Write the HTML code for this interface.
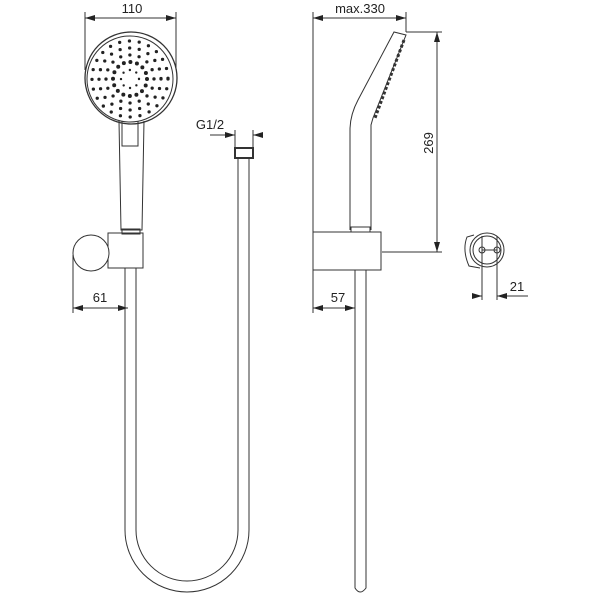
<!DOCTYPE html>
<html><head><style>html,body{margin:0;background:#fff}svg{display:block}text{font-family:"Liberation Sans",sans-serif;font-size:13px;fill:#222}</style></head><body>
<svg width="600" height="600" viewBox="0 0 600 600" xmlns="http://www.w3.org/2000/svg">
<defs>
<marker id="a" viewBox="0 0 10 6" refX="10" refY="3" markerWidth="10" markerHeight="6" orient="auto-start-reverse" markerUnits="userSpaceOnUse"><path d="M0,0L10,3L0,6z" fill="#222"/></marker>
</defs>
<g fill="none" stroke="#333" stroke-width="1">
<line x1="85" y1="12" x2="85" y2="70"/><line x1="176" y1="12" x2="176" y2="70"/>
<line x1="85" y1="18" x2="176" y2="18" marker-start="url(#a)" marker-end="url(#a)"/>
<circle cx="131" cy="78" r="46" stroke-width="1.3"/>
<circle cx="130" cy="79" r="43"/>
<g stroke="#222" stroke-linecap="round">
<circle cx="130" cy="79" r="38" stroke-dasharray="0 9.9" stroke-width="3.3"/>
<circle cx="130" cy="79" r="31" stroke-dasharray="0 9.7" stroke-width="3.3"/>
<circle cx="130" cy="79" r="24" stroke-dasharray="0 9.4" stroke-width="3.3"/>
<circle cx="130" cy="79" r="17" stroke-dasharray="0 6.7" stroke-width="4"/>
<circle cx="130" cy="79" r="9" stroke-dasharray="0 7" stroke-width="2.4"/>
</g>
<path d="M119,121 L121,230 L142,230 L144,121"/>
<path d="M122,121 L122,146 L138,146 L138,121"/>
<rect x="122" y="229" width="18" height="5"/>
<rect x="108" y="233" width="35" height="35"/>
<circle cx="91" cy="253" r="18" fill="#fff"/>
<line x1="73" y1="255" x2="73" y2="313"/>
<line x1="73" y1="308" x2="128" y2="308" marker-start="url(#a)" marker-end="url(#a)"/>
<path d="M125,268 L125,530 A62,62 0 0 0 249,530 L249,158"/>
<path d="M136,268 L136,530 A51,51 0 0 0 238,530 L238,158"/>
<rect x="235" y="148" width="18" height="10" stroke-width="2"/>
<line x1="235" y1="130" x2="235" y2="148"/><line x1="253" y1="130" x2="253" y2="148"/>
<line x1="210" y1="135" x2="235" y2="135" marker-end="url(#a)"/>
<line x1="263" y1="135" x2="253" y2="135" marker-end="url(#a)"/>
<line x1="313" y1="12" x2="313" y2="313"/>
<line x1="406" y1="12" x2="406" y2="32"/>
<line x1="313" y1="18" x2="406" y2="18" marker-start="url(#a)" marker-end="url(#a)"/>
<path d="M350,230 L350,130 Q350,115 358,100 L394,32 L406,35 L373,118 L371,125 L371,230"/>
<path d="M404,40 L375,118" stroke-width="3" stroke-dasharray="3 2"/>
<rect x="351" y="227" width="19" height="5"/>
<rect x="313" y="232" width="68" height="38"/>
<path d="M355,270 L355,588 Q360,596 366,588 L366,270"/>
<line x1="406" y1="32" x2="442" y2="32"/><line x1="382" y1="252" x2="442" y2="252"/>
<line x1="437" y1="32" x2="437" y2="252" marker-start="url(#a)" marker-end="url(#a)"/>
<line x1="313" y1="308" x2="355" y2="308" marker-start="url(#a)" marker-end="url(#a)"/>
<path d="M474,235 L467,237 Q462,250 469,266 L480,268"/>
<circle cx="487" cy="250" r="17"/>
<circle cx="487" cy="250" r="14"/>
<line x1="482" y1="236" x2="482" y2="264"/><line x1="497" y1="236" x2="497" y2="264"/>
<line x1="482" y1="250" x2="497" y2="250"/>
<circle cx="482" cy="250" r="3"/><circle cx="497" cy="250" r="3"/>
<line x1="482" y1="253" x2="482" y2="300"/><line x1="497" y1="253" x2="497" y2="300"/>
<line x1="472" y1="296" x2="482" y2="296" marker-end="url(#a)"/>
<line x1="528" y1="296" x2="497" y2="296" marker-end="url(#a)"/>
</g>
<text x="132" y="13" text-anchor="middle">110</text>
<text x="100" y="302" text-anchor="middle">61</text>
<text x="210" y="129" text-anchor="middle">G1/2</text>
<text x="360" y="13" text-anchor="middle">max.330</text>
<text x="338" y="302" text-anchor="middle">57</text>
<text x="517" y="291" text-anchor="middle">21</text>
<text transform="translate(433,143) rotate(-90)" text-anchor="middle">269</text>
</svg>
</body></html>
